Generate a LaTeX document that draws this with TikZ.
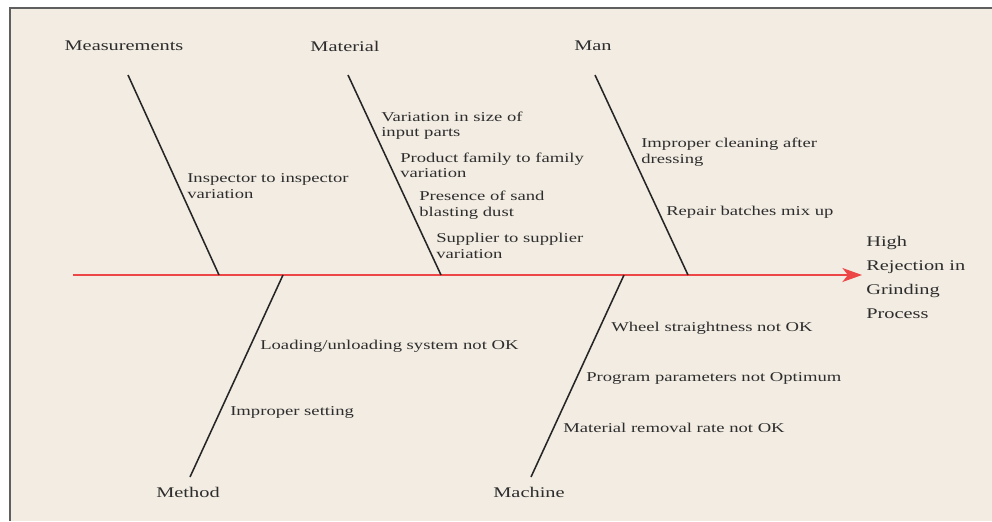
\documentclass[tikz,border=0pt]{standalone}
\usepackage{fontspec}
\setmainfont[FakeStretch=1.38]{Liberation Serif}
\usetikzlibrary{arrows.meta}
\definecolor{paper}{RGB}{242,236,226}
\definecolor{framegray}{RGB}{95,95,95}
\definecolor{spinered}{RGB}{236,70,70}
\definecolor{ink}{RGB}{45,45,45}
\begin{document}
\begin{tikzpicture}[x=0.025cm,y=-0.025cm,
  every node/.style={inner sep=0pt,text=ink},
  head/.style={font=\fontsize{10.5}{12.5}\selectfont},
  cause/.style={anchor=west,align=left,font=\fontsize{9.6}{11}\selectfont},
  bone/.style={draw=black!85,line width=1.1pt}]
\useasboundingbox (0,0) rectangle (992,521);
\fill[white] (0,0) rectangle (992,521);
\fill[paper] (10,8) rectangle (992,521);
\draw[framegray,line width=1.3pt] (10,521) -- (10,8) -- (992,8);
% spine and effect
\coordinate (tail) at (73,275);
\coordinate (tip) at (862,275);
\node[anchor=west,align=left,font=\fontsize{10.5}{17}\selectfont] (effect) at (866,277.5) {High\\Rejection in\\Grinding\\Process};
\draw[spinered,line width=1pt,-{Stealth[length=14pt,width=10pt,inset=4pt]}] (tail) -- (tip);
% category labels
\node[head] (meas) at (124,46) {Measurements};
\node[head] (matl) at (345,46) {Material};
\node[head] (man) at (593,46) {Man};
\node[head] (meth) at (188,492) {Method};
\node[head] (mach) at (529,492) {Machine};
% bones
\coordinate (measTop) at (128,75);  \coordinate (measFoot) at (219,275);
\coordinate (matlTop) at (348,75);  \coordinate (matlFoot) at (441,275);
\coordinate (manTop) at (595,75);   \coordinate (manFoot) at (688,275);
\coordinate (methEnd) at (190,477); \coordinate (methFoot) at (283,275);
\coordinate (machEnd) at (531,477); \coordinate (machFoot) at (624,275);
\draw[bone] (measTop) -- (measFoot);
\draw[bone] (matlTop) -- (matlFoot);
\draw[bone] (manTop) -- (manFoot);
\draw[bone] (methEnd) -- (methFoot);
\draw[bone] (machEnd) -- (machFoot);
% causes
\node[cause] (c1) at (187,186) {Inspector to inspector\\variation};
\node[cause] (c2) at (381,125.5) {Variation in size of\\input parts};
\node[cause] (c3) at (400,165.5) {Product family to family\\variation};
\node[cause] (c4) at (419,205) {Presence of sand\\blasting dust};
\node[cause] (c5) at (436,246) {Supplier to supplier\\variation};
\node[cause] (c6) at (641,152) {Improper cleaning after\\dressing};
\node[cause] (c7) at (666,212) {Repair batches mix up};
\node[cause] (c8) at (260,346) {Loading/unloading system not OK};
\node[cause] (c9) at (230,412) {Improper setting};
\node[cause] (c10) at (611,328) {Wheel straightness not OK};
\node[cause] (c11) at (586,378) {Program parameters not Optimum};
\node[cause] (c12) at (563,428) {Material removal rate not OK};
\end{tikzpicture}
\end{document}
